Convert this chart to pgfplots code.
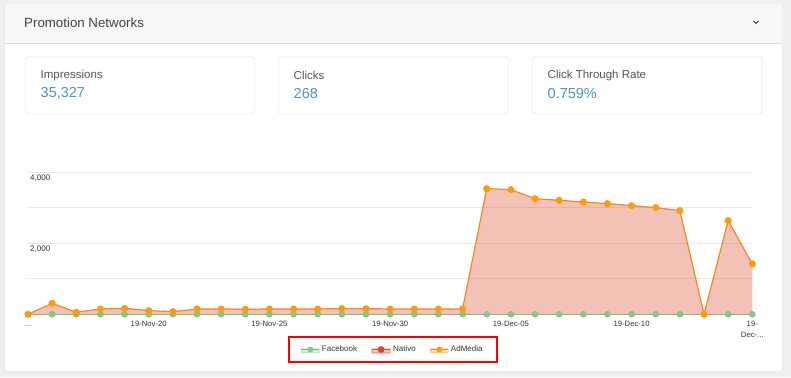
\documentclass[border=0pt]{standalone}
\usepackage{pgfplots}
\pgfplotsset{compat=1.18}
\usepackage{pgfplotstable}
\usepackage{fontspec}
\setmainfont{Liberation Sans}
\definecolor{pagebg}{HTML}{EFEFEF}
\definecolor{cardborder}{HTML}{DCDCDC}
\definecolor{headerbg}{HTML}{F7F7F7}
\definecolor{titlecol}{HTML}{444444}
\definecolor{labcol}{HTML}{555555}
\definecolor{valcol}{HTML}{4B9AB5}
\definecolor{tickcol}{HTML}{333333}
\definecolor{gridcol}{HTML}{E8E8E8}
\definecolor{fbline}{HTML}{77C07B}
\definecolor{fbmark}{HTML}{7DCB85}
\definecolor{natcol}{HTML}{DA512E}
\definecolor{natmark}{HTML}{E0402A}
\definecolor{adline}{HTML}{F5891F}
\definecolor{admark}{HTML}{FF9A0A}

\newcommand{\threedots}{.\kern0pt.\kern0pt.}

\pgfplotstableread{
x fb nat ad
0 0 0 0
1 0 0 310
2 0 0 60
3 0 0 150
4 0 0 169
5 0 0 103
6 0 0 75
7 0 0 150
8 0 0 150
9 0 0 141
10 0 0 150
11 0 0 150
12 0 0 150
13 0 0 160
14 0 0 160
15 0 0 150
16 0 0 150
17 0 0 150
18 0 0 150
19 0 0 3540
20 0 0 3512
21 0 0 3258
22 0 0 3211
23 0 0 3164
24 0 0 3117
25 0 0 3061
26 0 0 3005
27 0 0 2920
28 0 0 0
29 0 0 2639
30 0 0 1418
}\datatable

\begin{document}
\begin{tikzpicture}
\begin{scope}[x=1pt,y=1pt]
\useasboundingbox (0,0) rectangle (791,377);
\fill[pagebg] (0,0) rectangle (791,377);
% card
\draw[cardborder, fill=white, rounded corners=3pt] (4.5,5.5) rectangle (782.5,373.5);
\fill[headerbg, rounded corners=3pt] (5,334) rectangle (782,373);
\fill[headerbg] (5,334) rectangle (782,340);
\draw[cardborder] (5,333.5) -- (782,333.5);
\node[anchor=west, inner sep=0, font=\fontsize{13.3}{15}\selectfont, text=titlecol] at (24,354) {Promotion Networks};
\draw[tickcol, line width=0.9pt] (753.5,356) -- (756,353.5) -- (758.5,356);
% KPI boxes
\foreach \xa/\xb/\lab/\val in {25/255/Impressions/{35,327}, 278/509/Clicks/268, 532/763/Click Through Rate/0.759\%}{
  \draw[cardborder, rounded corners=3pt] (\xa+0.5,320.5) rectangle (\xb-0.5,263.5);
  \node[anchor=west, inner sep=0, font=\fontsize{11.5}{13}\selectfont, text=labcol] at (\xa+15.5,301.5) {\lab};
  \node[anchor=west, inner sep=0, font=\fontsize{14.5}{16}\selectfont, text=valcol] at (\xa+15.5,283.5) {\val};
}
\end{scope}
\begin{axis}[
  at={(28pt,62.7pt)}, anchor=origin,
  scale only axis, width=724.3pt, height=142pt,
  xmin=0, xmax=30, ymin=0, ymax=4000,
  clip=false,
  axis line style={draw=none},
  major tick length=0pt, minor tick length=0pt,
  xtick={0,5,10,15,20,25,30},
  xticklabels={{\vphantom{19}\threedots},19-Nov-20,19-Nov-25,19-Nov-30,19-Dec-05,19-Dec-10,{19-\\Dec-\threedots}},
  ytick={2000,4000}, minor ytick={1000,3000},
  ymajorgrids, yminorgrids,
  major grid style={gridcol, line width=0.8pt},
  minor grid style={gridcol, line width=0.8pt},
  yticklabel style={anchor=north west, font=\fontsize{8}{9}\selectfont, text=tickcol, inner sep=2pt},
  xticklabel style={font=\fontsize{7.7}{10.5}\selectfont, text=tickcol, align=center, yshift=-3.5pt},
  /pgf/number format/assume math mode=true,
  /pgf/number format/1000 sep={,},
  scaled y ticks=false,
  legend columns=3,
  legend cell align=left,
  legend style={at={(0.5,0)}, anchor=center, xshift=2.5pt, yshift=-35.2pt,
    draw=red, line width=2pt, inner xsep=12pt, inner ysep=6.5pt,
    font=\fontsize{8}{9}\selectfont, text=tickcol,
    /tikz/every even column/.append style={column sep=12pt}},
]
\addplot[draw=none, fill=natcol, fill opacity=0.35, forget plot] table[x=x, y=ad] {\datatable} \closedcycle;
\addplot[natcol, line width=1pt, mark=*, mark size=2.5pt, mark options={fill=natmark, draw=natmark}, forget plot] table[x=x, y=nat] {\datatable};
\addplot[fbline, line width=1.2pt, mark=*, mark size=2.5pt, mark options={fill=fbmark, draw=fbmark},
  legend image code/.code={
    \fill[fbmark, opacity=0.3] (0pt,-3pt) rectangle (18pt,1pt);
    \draw[fbline, line width=1pt] (0pt,0pt) -- (18pt,0pt);
    \fill[fbmark] (9pt,0pt) circle (2.3pt);}
  ] table[x=x, y=fb] {\datatable};
\addlegendentry{Facebook}
\addlegendimage{legend image code/.code={
    \fill[natcol, opacity=0.3] (0pt,-3pt) rectangle (18pt,1pt);
    \draw[natcol, line width=1pt] (0pt,0pt) -- (18pt,0pt);
    \fill[natmark] (9pt,0pt) circle (2.3pt);}}
\addlegendentry{Nativo}
\addplot[adline, line width=1.2pt, mark=*, mark size=2.9pt, mark options={fill=admark, draw=admark},
  legend image code/.code={
    \fill[admark, opacity=0.3] (0pt,-3pt) rectangle (18pt,1pt);
    \draw[adline, line width=1pt] (0pt,0pt) -- (18pt,0pt);
    \fill[admark] (9pt,0pt) circle (2.3pt);}
  ] table[x=x, y=ad] {\datatable};
\addlegendentry{AdMedia}
\end{axis}
\end{tikzpicture}
\end{document}
